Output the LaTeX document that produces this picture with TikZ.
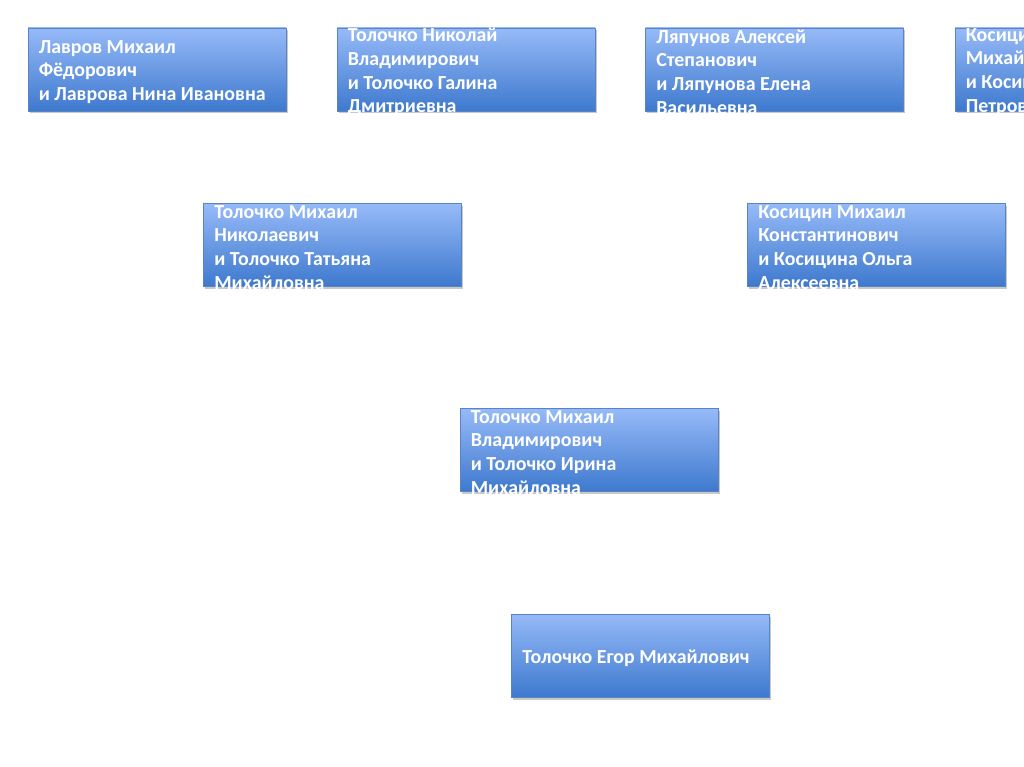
\documentclass[tikz,border=0pt]{standalone}
\usepackage{fontspec}
\setmainfont{Carlito}
\usetikzlibrary{shadows}
\definecolor{boxtop}{RGB}{150,186,248}
\definecolor{boxbot}{RGB}{62,121,206}
\definecolor{boxedge}{RGB}{88,132,196}
\tikzset{
  box/.style={draw=boxedge, line width=0.8pt, top color=boxtop, bottom color=boxbot,
    minimum width=258pt, minimum height=83pt, inner sep=0pt,
    drop shadow={shadow xshift=1.5pt, shadow yshift=-2.5pt, opacity=0.3, fill=black!70}},
  lbl/.style={text=white, font=\bfseries\fontsize{19.9}{23.8}\selectfont, align=left,
    anchor=west, inner sep=0pt, yshift=-2.5pt}
}
\begin{document}
\begin{tikzpicture}[x=1pt,y=-1pt]
\useasboundingbox (0,0) rectangle (1024,767);
\fill[white] (0,0) rectangle (1024,767);
\clip (0,0) rectangle (1024,767);
\node[box] (b1) at (157,69.5) {};
\node[lbl] (t1) at ([xshift=11pt]b1.west) {Лавров Михаил\\Фёдорович\\и Лаврова Нина Ивановна};
\node[box] (b2) at (466,69.5) {};
\node[lbl] (t2) at ([xshift=11pt]b2.west) {Толочко Николай\\Владимирович\\и Толочко Галина\\Дмитриевна};
\node[box] (b3) at (774.5,69.5) {};
\node[lbl] (t3) at ([xshift=11pt]b3.west) {Ляпунов Алексей\\Степанович\\и Ляпунова Елена\\Васильевна};
\node[box] (b4) at (1084,69.5) {};
\node[lbl] (t4) at ([xshift=11pt]b4.west) {Косицин\\Михайлович\\и Косицина\\Петровна};
\node[box] (b5) at (332.5,245) {};
\node[lbl] (t5) at ([xshift=11pt]b5.west) {Толочко Михаил\\Николаевич\\и Толочко Татьяна\\Михайловна};
\node[box] (b6) at (876.5,245) {};
\node[lbl] (t6) at ([xshift=11pt]b6.west) {Косицин Михаил\\Константинович\\и Косицина Ольга\\Алексеевна};
\node[box] (b7) at (589,450) {};
\node[lbl] (t7) at ([xshift=11pt]b7.west) {Толочко Михаил\\Владимирович\\и Толочко Ирина\\Михайловна};
\node[box] (b8) at (640.5,655.5) {};
\node[lbl] (t8) at ([xshift=11pt]b8.west) {Толочко Егор Михайлович};
\end{tikzpicture}
\end{document}
